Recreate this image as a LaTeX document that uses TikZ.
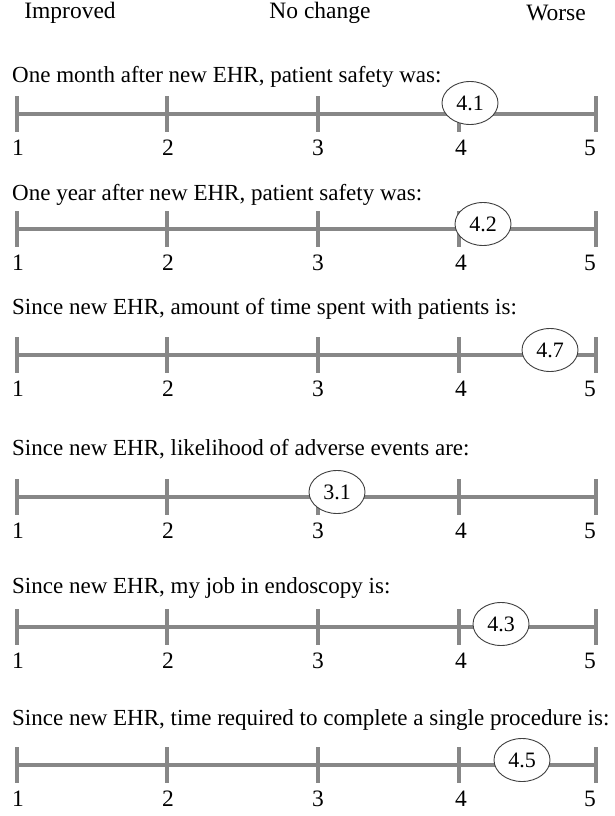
\documentclass[tikz,border=0pt]{standalone}
\usepackage{fontspec}
\setmainfont{Liberation Serif}
\usetikzlibrary{positioning,calc,shapes.geometric}
\definecolor{scalegray}{RGB}{135,135,135}
\tikzset{
  head/.style={font=\fontsize{23.5}{27}\selectfont,inner sep=0pt},
  question/.style={font=\fontsize{23}{27}\selectfont,inner sep=0pt,anchor=west},
  num/.style={font=\fontsize{23.5}{27}\selectfont,inner sep=0pt},
  scaleline/.style={draw=scalegray,line width=3.2pt},
  tickmark/.style={draw=scalegray,line width=3.2pt},
  score/.style={ellipse,draw=black!75,fill=white,line width=0.9pt,
    minimum width=56pt,minimum height=43pt,inner sep=0pt,
    font=\fontsize{22}{26}\selectfont}
}

\begin{document}
\begin{tikzpicture}[x=1pt,y=-1pt]
\useasboundingbox (0,0) rectangle (615,816);
\node[head] (imp) at (70,13) {Improved};
\node[head] (noc) at (320,13) {No change};
\node[head] (wor) at (556,13) {Worse};
% one scale per question: row/line y/title y/text/score/score x/score y
\foreach \r/\y/\ty/\t/\v/\vx/\vy in {
  1/114/77/{One month after new EHR, patient safety was:}/4.1/470/103,
  2/229/195/{One year after new EHR, patient safety was:}/4.2/483/224,
  3/355/309/{Since new EHR, amount of time spent with patients is:}/4.7/550/350,
  4/497/449/{Since new EHR, likelihood of adverse events are:}/3.1/337/492,
  5/627/588/{Since new EHR, my job in endoscopy is:}/4.3/501/624,
  6/765/720/{Since new EHR, time required to complete a single procedure is:}/4.5/522/760}{
  \node[question] (q\r) at (12,\ty) {\t};
  \coordinate (a\r) at (17,\y);
  \coordinate (b\r) at (596,\y);
  \draw[scaleline] (a\r) -- (b\r);
  \foreach \n/\x/\nx in {1/17/18,2/167/168,3/318/318,4/459/461,5/596/590}{
    \coordinate (t\r\n) at (\x,\y);
    \draw[tickmark] ($(t\r\n)+(0,-18)$) -- ($(t\r\n)+(0,18)$);
    \node[num] (n\r\n) at (\nx,\y+34) {\n};
  }
  \node[score] (s\r) at (\vx,\vy) {\v};
}
\end{tikzpicture}
\end{document}
